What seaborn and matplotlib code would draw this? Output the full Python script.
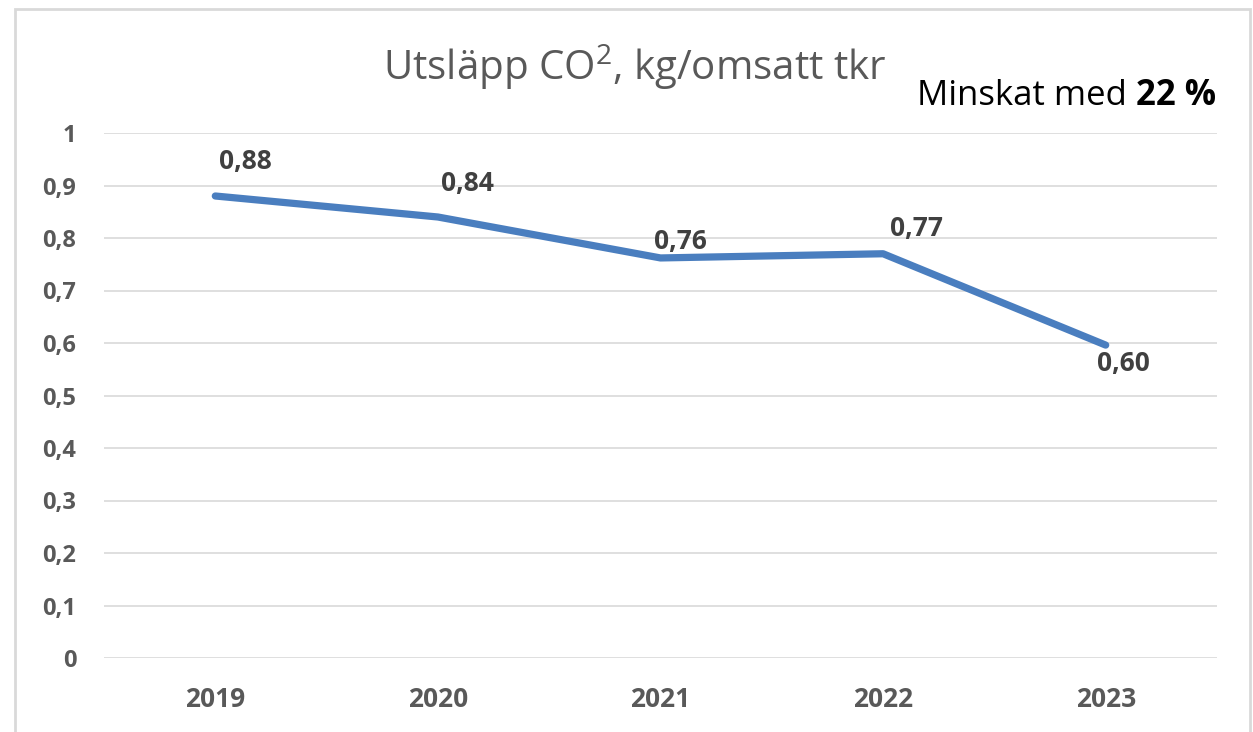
import matplotlib
matplotlib.use("Agg")
import matplotlib.pyplot as plt
import seaborn as sns
import pandas as pd
from matplotlib.patches import Rectangle

# Data
years = ["2019", "2020", "2021", "2022", "2023"]
values = [0.88, 0.84, 0.762, 0.77, 0.596]
value_labels = ["0,88", "0,84", "0,76", "0,77", "0,60"]
y_ticks = [0, 0.1, 0.2, 0.3, 0.4, 0.5, 0.6, 0.7, 0.8, 0.9, 1.0]
y_tick_labels = ["0", "0,1", "0,2", "0,3", "0,4", "0,5", "0,6", "0,7", "0,8", "0,9", "1"]
title = "Utsläpp CO$^2$, kg/omsatt tkr"
note_plain = "Minskat med "
note_bold = "22 %"

df = pd.DataFrame({"Year": years, "Value": values})

sns.set_theme(style="white")
plt.rcParams["font.family"] = ["Open Sans", "DejaVu Sans"]
plt.rcParams["mathtext.fontset"] = "custom"
plt.rcParams["mathtext.rm"] = "Open Sans"
plt.rcParams["mathtext.it"] = "Open Sans"
plt.rcParams["mathtext.default"] = "regular"

W, H = 1253, 732
fig = plt.figure(figsize=(W / 100, H / 100), dpi=100)
ax = fig.add_axes([104 / W, 1 - 658 / H, (1217 - 104) / W, (658 - 133) / H])

sns.lineplot(data=df, x="Year", y="Value", ax=ax, color="#4A7EBF",
             linewidth=5.2, solid_capstyle="round", solid_joinstyle="round")

ax.set_xlim(-0.5, len(years) - 0.5)
ax.set_ylim(0, 1)
ax.set_yticks(y_ticks)
ax.set_yticklabels(y_tick_labels)
ax.set_xlabel("")
ax.set_ylabel("")
ax.grid(axis="y", color="#D9D9D9", linewidth=1.2)
ax.set_axisbelow(True)
for s in ax.spines.values():
    s.set_visible(False)
ax.tick_params(axis="y", length=0, pad=20, labelsize=17, labelcolor="#595959")
ax.tick_params(axis="x", length=0, pad=20, labelsize=19, labelcolor="#595959")
for lab in ax.get_yticklabels() + ax.get_xticklabels():
    lab.set_fontweight("bold")

# data labels (offsets in pixels, as placed in the original)
offsets = [(30, 35), (30, 34), (20, 16), (33, 25), (18, -18)]
for i, (v, t) in enumerate(zip(values, value_labels)):
    ax.annotate(t, (i, v), xytext=offsets[i], textcoords="offset pixels",
                ha="center", va="center", fontsize=19, fontweight="bold",
                color="#404040")

fig.text(635 / W, 1 - 80 / H, title, ha="center", va="baseline",
         fontsize=29, color="#595959")

# "Minskat med 22 %" with bold number
fig.canvas.draw()
r = fig.canvas.get_renderer()
bold = fig.text(1216 / W, 1 - 105 / H, note_bold, ha="right", va="baseline",
                fontsize=25, fontweight="bold", color="black")
bb = bold.get_window_extent(renderer=r)
fig.text(bb.x0 / W, 1 - 105 / H, note_plain, ha="right", va="baseline",
         fontsize=25, color="black")

# light chart frame
fig.patches.append(Rectangle((15 / W, -0.1), (1250 - 15) / W, 1.1 - 9 / H,
                             transform=fig.transFigure, fill=False,
                             edgecolor="#D9D9D9", linewidth=2))

fig.savefig("out.png", dpi=100)
